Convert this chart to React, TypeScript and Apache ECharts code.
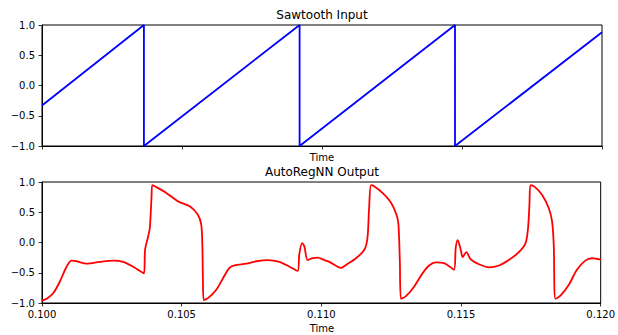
import React, { useEffect, useRef } from "react";
import * as echarts from "echarts";

const xTicks = [0.1, 0.105, 0.11, 0.115, 0.12];
const yTicks = [-1.0, -0.5, 0.0, 0.5, 1.0];

// Sawtooth input: vertices [time, value]
const sawTime = [0.1, 0.10364, 0.10364, 0.1092, 0.1092, 0.11475, 0.11475, 0.12];
const sawValue = [-0.33, 1.0, -1.0, 1.0, -1.0, 1.0, -1.0, 0.88];

// AutoRegNN output
const outTime = [
  0.1, 0.10017, 0.1004, 0.10064, 0.10088, 0.10106, 0.10124, 0.1016, 0.10207, 0.10255,
  0.1029, 0.10326, 0.10365, 0.10369, 0.1038, 0.10386, 0.10392, 0.10395, 0.10404, 0.10445,
  0.10487, 0.10529, 0.10558, 0.1057, 0.10574, 0.10576, 0.10579, 0.10594, 0.10624,
  0.10648, 0.10671, 0.10689, 0.10731, 0.10767, 0.10808, 0.1085, 0.10886, 0.10915, 0.10921,
  0.10931, 0.10939, 0.10951, 0.10969, 0.10987, 0.11011, 0.11029, 0.1107, 0.11088, 0.11124,
  0.11154, 0.11165, 0.11171, 0.11178, 0.11189, 0.11219, 0.11249, 0.11269, 0.11276, 0.11281,
  0.11285, 0.11302, 0.11332, 0.11362, 0.11386, 0.1141, 0.11439, 0.11475, 0.11481, 0.11488,
  0.11499, 0.11506, 0.11519, 0.11535, 0.11564, 0.116, 0.11636, 0.11671, 0.11707, 0.11731,
  0.1174, 0.11745, 0.11749, 0.11764, 0.1179, 0.11814, 0.11826, 0.11832, 0.11838, 0.11856,
  0.11886, 0.11915, 0.11945, 0.11969, 0.12,
];
const outValue = [
  -0.96, -0.93, -0.84, -0.645, -0.4, -0.3, -0.31, -0.35, -0.32, -0.3,
  -0.32, -0.4, -0.51, -0.12, 0.1, 0.24, 0.74, 0.95, 0.93, 0.82,
  0.68, 0.6, 0.46, 0.3, -0.04, -0.59, -0.95, -0.92, -0.78,
  -0.59, -0.42, -0.38, -0.35, -0.31, -0.29, -0.32, -0.4, -0.47, -0.2,
  -0.01, -0.06, -0.29, -0.26, -0.25, -0.29, -0.32, -0.42, -0.37, -0.26,
  -0.12, 0.07, 0.57, 0.95, 0.93, 0.82, 0.66, 0.46, 0.3, -0.31,
  -0.93, -0.89, -0.73, -0.51, -0.38, -0.33, -0.34, -0.45, -0.09, 0.04,
  -0.12, -0.24, -0.16, -0.28, -0.36, -0.41, -0.38, -0.29, -0.16, -0.01,
  0.24, 0.63, 0.95, 0.92, 0.79, 0.57, 0.35, -0.04, -0.93, -0.88,
  -0.7, -0.45, -0.3, -0.26, -0.285,
];

const FONT = "DejaVu Sans";
const fmtY = (v: number) => v.toFixed(1).replace("-", "\u2212");
const fmtX = (v: number) => v.toFixed(3);

export default function App() {
  const ref = useRef<HTMLDivElement>(null);
  useEffect(() => {
    if (!ref.current) return;
    const chart = echarts.init(ref.current, null, { renderer: "svg" });
    const L = 42, W = 560;
    const mkX = (gi: number, showLabels: boolean) => ({
      type: "value",
      gridIndex: gi,
      min: xTicks[0],
      max: xTicks[xTicks.length - 1],
      interval: 0.005,
      axisLine: { show: true, onZero: false, lineStyle: { color: "#000", width: 1 } },
      axisTick: { show: true, length: 3.5, lineStyle: { color: "#000", width: 0.8 } },
      axisLabel: {
        show: showLabels,
        formatter: fmtX,
        color: "#000",
        fontFamily: FONT,
        fontSize: 10,
        margin: 6,
      },
      splitLine: { show: false },
    });
    const mkY = (gi: number) => ({
      type: "value",
      gridIndex: gi,
      min: yTicks[0],
      max: yTicks[yTicks.length - 1],
      interval: 0.5,
      axisLine: { show: true, onZero: false, lineStyle: { color: "#000", width: 1 } },
      axisTick: { show: true, length: 3.5, lineStyle: { color: "#000", width: 0.8 } },
      axisLabel: { formatter: fmtY, color: "#000", fontFamily: FONT, fontSize: 10, margin: 7 },
      splitLine: { show: false },
    });
    const textStyle = (t: string, x: number, y: number, size: number) => ({
      type: "text",
      x,
      y,
      style: {
        text: t,
        fill: "#000",
        font: `${size}px '${FONT}'`,
        textAlign: "center",
        textVerticalAlign: "middle",
      },
    });
    chart.setOption({
      animation: false,
      backgroundColor: "#fff",
      grid: [
        { left: L, width: W, top: 25, height: 121, show: true, borderColor: "#000", borderWidth: 1, containLabel: false },
        { left: L, width: W, top: 182, height: 121, show: true, borderColor: "#000", borderWidth: 1, containLabel: false },
      ],
      xAxis: [mkX(0, false), mkX(1, true)],
      yAxis: [mkY(0), mkY(1)],
      series: [
        {
          type: "line",
          xAxisIndex: 0,
          yAxisIndex: 0,
          data: sawTime.map((t, i) => [t, sawValue[i]]),
          showSymbol: false,
          lineStyle: { color: "#0000ff", width: 1.8 },
          clip: true,
        },
        {
          type: "line",
          xAxisIndex: 1,
          yAxisIndex: 1,
          data: outTime.map((t, i) => [t, outValue[i]]),
          showSymbol: false,
          smooth: 0.3,
          lineStyle: { color: "#ff0000", width: 1.8 },
          clip: true,
        },
      ],
      graphic: [
        textStyle("Sawtooth Input", 322, 14.5, 12),
        textStyle("Time", 322, 157.5, 10),
        textStyle("AutoRegNN Output", 322, 172, 12),
        textStyle("Time", 322, 328, 10),
      ],
    });
    return () => chart.dispose();
  }, []);
  return (
    <div
      ref={ref}
      style={{ position: "absolute", left: 0, top: 0, width: 618, height: 335 }}
    />
  );
}
